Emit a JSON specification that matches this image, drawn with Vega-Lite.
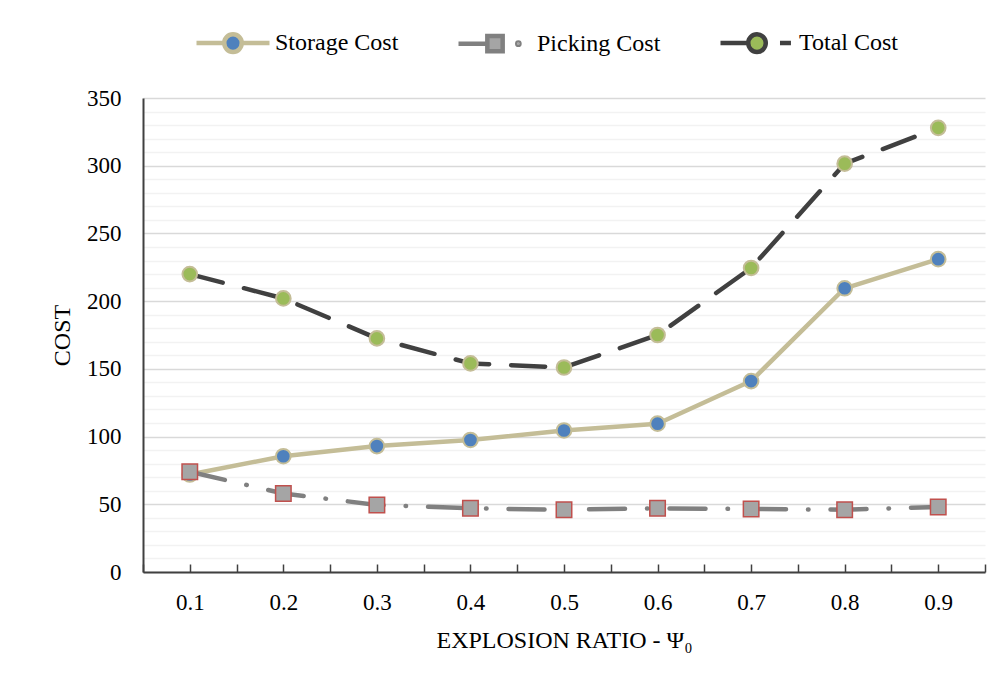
{
  "$schema": "https://vega.github.io/schema/vega-lite/v6.json",
  "width": 842,
  "height": 474,
  "autosize": "none",
  "padding": {"left": 143, "top": 98, "right": 22, "bottom": 112},
  "background": "white",
  "config": {
    "font": "Liberation Serif",
    "view": {"stroke": null}
  },
  "data": {
    "values": [
      {"ratio": 0.1, "series": "Storage Cost", "cost": 72},
      {"ratio": 0.2, "series": "Storage Cost", "cost": 85.5},
      {"ratio": 0.3, "series": "Storage Cost", "cost": 93},
      {"ratio": 0.4, "series": "Storage Cost", "cost": 97.5},
      {"ratio": 0.5, "series": "Storage Cost", "cost": 104.5},
      {"ratio": 0.6, "series": "Storage Cost", "cost": 109.5},
      {"ratio": 0.7, "series": "Storage Cost", "cost": 141},
      {"ratio": 0.8, "series": "Storage Cost", "cost": 209.5},
      {"ratio": 0.9, "series": "Storage Cost", "cost": 231},
      {"ratio": 0.1, "series": "Picking Cost", "cost": 74},
      {"ratio": 0.2, "series": "Picking Cost", "cost": 58},
      {"ratio": 0.3, "series": "Picking Cost", "cost": 49.5},
      {"ratio": 0.4, "series": "Picking Cost", "cost": 47},
      {"ratio": 0.5, "series": "Picking Cost", "cost": 46},
      {"ratio": 0.6, "series": "Picking Cost", "cost": 47},
      {"ratio": 0.7, "series": "Picking Cost", "cost": 46.5},
      {"ratio": 0.8, "series": "Picking Cost", "cost": 46},
      {"ratio": 0.9, "series": "Picking Cost", "cost": 48},
      {"ratio": 0.1, "series": "Total Cost", "cost": 220},
      {"ratio": 0.2, "series": "Total Cost", "cost": 202},
      {"ratio": 0.3, "series": "Total Cost", "cost": 172.5},
      {"ratio": 0.4, "series": "Total Cost", "cost": 154},
      {"ratio": 0.5, "series": "Total Cost", "cost": 151},
      {"ratio": 0.6, "series": "Total Cost", "cost": 175},
      {"ratio": 0.7, "series": "Total Cost", "cost": 224.5},
      {"ratio": 0.8, "series": "Total Cost", "cost": 301.5},
      {"ratio": 0.9, "series": "Total Cost", "cost": 328}
    ]
  },
  "encoding": {
    "x": {
      "field": "ratio",
      "type": "quantitative",
      "scale": {"domain": [0.05, 0.95], "nice": false, "zero": false},
      "axis": {
        "values": [0.05, 0.1, 0.15, 0.2, 0.25, 0.3, 0.35, 0.4, 0.45, 0.5, 0.55, 0.6, 0.65, 0.7, 0.75, 0.8, 0.85, 0.9, 0.95],
        "labelExpr": "round(datum.value * 100) % 10 === 0 ? format(datum.value, '.1f') : ''",
        "grid": false,
        "domainColor": "#404040",
        "domainWidth": 2,
        "tickColor": "#404040",
        "tickWidth": 1.5,
        "tickSize": -8,
        "labelPadding": 27,
        "labelFontSize": 23,
        "labelColor": "#000000",
        "labelFlush": false,
        "labelOverlap": false,
        "title": "EXPLOSION RATIO - Ψ₀",
        "titleFontSize": 24,
        "titleFontWeight": "normal",
        "titleColor": "#000000",
        "titlePadding": 14,
        "encode": {
          "ticks": {"update": {"opacity": {"signal": "round(datum.value * 100) % 10 === 5 ? 1 : 0"}}}
        }
      }
    },
    "y": {
      "field": "cost",
      "type": "quantitative",
      "scale": {"domain": [0, 350], "nice": false},
      "axis": {
        "values": [0, 10, 20, 30, 40, 50, 60, 70, 80, 90, 100, 110, 120, 130, 140, 150, 160, 170, 180, 190, 200, 210, 220, 230, 240, 250, 260, 270, 280, 290, 300, 310, 320, 330, 340, 350],
        "labelExpr": "datum.value % 50 === 0 ? datum.value : ''",
        "gridColor": {"condition": {"test": "datum.value % 50 === 0", "value": "#d9d9d9"}, "value": "#f2f2f2"},
        "gridWidth": 1.5,
        "domainColor": "#404040",
        "domainWidth": 2,
        "ticks": false,
        "labelPadding": 22,
        "labelFontSize": 23,
        "labelColor": "#000000",
        "labelOverlap": false,
        "labelFlush": false,
        "title": "COST",
        "titleFontSize": 24,
        "titleFontWeight": "normal",
        "titleColor": "#000000",
        "titlePadding": 12
      }
    }
  },
  "layer": [
    {
      "transform": [{"filter": "datum.series === 'Storage Cost'"}],
      "mark": {"type": "line", "stroke": "#c4bd97", "strokeWidth": 4.5, "strokeCap": "round", "strokeJoin": "round"}
    },
    {
      "transform": [{"filter": "datum.series === 'Picking Cost'"}],
      "mark": {"type": "line", "stroke": "#808080", "strokeWidth": 4.5, "strokeCap": "round", "strokeJoin": "round", "strokeDash": [36, 22, 0.5, 22]}
    },
    {
      "transform": [{"filter": "datum.series === 'Total Cost'"}],
      "mark": {"type": "line", "stroke": "#404040", "strokeWidth": 4.5, "strokeCap": "round", "strokeJoin": "round", "strokeDash": [34, 22]}
    },
    {
      "transform": [{"filter": "datum.series !== 'Picking Cost'"}],
      "mark": {"type": "point", "shape": "circle", "filled": true, "opacity": 1, "size": 215, "stroke": "#c4bd97", "strokeWidth": 2},
      "encoding": {
        "fill": {
          "field": "series",
          "type": "nominal",
          "scale": {
            "domain": ["Storage Cost", "Picking Cost", "Total Cost"],
            "range": ["#4f81bd", "#a5a5a5", "#9bbb59"]
          },
          "legend": {
            "title": null,
            "orient": "none",
            "direction": "horizontal",
            "legendX": 51,
            "legendY": -94,
            "padding": 0,
            "symbolSize": 5329,
            "symbolStrokeWidth": 4.5,
            "symbolOpacity": 1,
            "labelOffset": 3,
            "columnPadding": 50,
            "labelFontSize": 24,
            "labelColor": "#000000",
            "labelFont": "Liberation Serif"
          }
        }
      }
    },
    {
      "transform": [{"filter": "datum.series === 'Picking Cost'"}],
      "mark": {"type": "point", "shape": "square", "filled": true, "opacity": 1, "size": 240, "fill": "#a5a5a5", "stroke": "#c0504d", "strokeWidth": 1.5}
    },
    {
      "mark": {"type": "point", "filled": true, "opacity": 0},
      "encoding": {
        "stroke": {
          "field": "series",
          "type": "nominal",
          "scale": {
            "domain": ["Storage Cost", "Picking Cost", "Total Cost"],
            "range": ["#c4bd97", "#808080", "#404040"]
          },
          "legend": {
            "title": null,
            "orient": "none",
            "direction": "horizontal",
            "legendX": 51,
            "legendY": -94,
            "padding": 0,
            "symbolSize": 5329,
            "symbolStrokeWidth": 4.5,
            "symbolOpacity": 1,
            "labelOffset": 3,
            "columnPadding": 50,
            "labelFontSize": 24,
            "labelColor": "#000000",
            "labelFont": "Liberation Serif"
          }
        },
        "fill": {
          "field": "series",
          "type": "nominal",
          "scale": {
            "domain": ["Storage Cost", "Picking Cost", "Total Cost"],
            "range": ["#4f81bd", "#a5a5a5", "#9bbb59"]
          }
        },
        "shape": {
          "field": "series",
          "type": "nominal",
          "scale": {
            "domain": ["Storage Cost", "Picking Cost", "Total Cost"],
            "range": [
              "M-1,0L-0.25,0M0.25,0L1,0M0.24,0A0.24,0.24,0,1,1,-0.24,0A0.24,0.24,0,1,1,0.24,0Z",
              "M-1,0L-0.21,0M-0.21,-0.21L0.21,-0.21L0.21,0.21L-0.21,0.21ZM0.67,0A0.03,0.03,0,1,1,0.61,0A0.03,0.03,0,1,1,0.67,0Z",
              "M-1,0L-0.25,0M0.24,0A0.24,0.24,0,1,1,-0.24,0A0.24,0.24,0,1,1,0.24,0ZM0.63,0L0.93,0"
            ]
          },
          "legend": {
            "title": null,
            "orient": "none",
            "direction": "horizontal",
            "legendX": 51,
            "legendY": -94,
            "padding": 0,
            "symbolSize": 5329,
            "symbolStrokeWidth": 4.5,
            "symbolOpacity": 1,
            "labelOffset": 3,
            "columnPadding": 50,
            "labelFontSize": 24,
            "labelColor": "#000000",
            "labelFont": "Liberation Serif"
          }
        }
      }
    }
  ]
}
